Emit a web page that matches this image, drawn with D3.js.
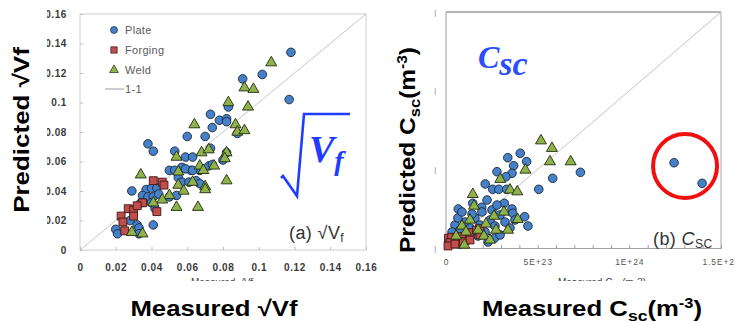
<!DOCTYPE html>
<html>
<head>
<meta charset="utf-8">
<script src="https://cdn.jsdelivr.net/npm/d3@7"></script>
<style>
  body { margin: 0; background: #fff; }
  svg { display: block; font-family: "Liberation Sans", Arial, sans-serif; }
</style>
</head>
<body>
<script>
// (a) sqrt(Vf): [measured, predicted]
const plateVf = [[0.118,0.134],[0.102,0.119],[0.091,0.116],[0.117,0.102],[0.083,0.097],[0.073,0.092],[0.078,0.088],[0.082,0.089],[0.082,0.087],[0.074,0.083],[0.060,0.077],[0.070,0.077],[0.088,0.079],[0.038,0.072],[0.041,0.067],[0.053,0.067],[0.059,0.063],[0.063,0.063],[0.082,0.066],[0.073,0.069],[0.050,0.054],[0.053,0.054],[0.057,0.056],[0.062,0.054],[0.067,0.054],[0.072,0.057],[0.055,0.049],[0.057,0.046],[0.061,0.046],[0.065,0.047],[0.067,0.045],[0.029,0.040],[0.037,0.041],[0.040,0.042],[0.043,0.042],[0.035,0.037],[0.038,0.036],[0.041,0.036],[0.044,0.038],[0.050,0.036],[0.054,0.037],[0.034,0.032],[0.040,0.032],[0.042,0.028],[0.032,0.017],[0.033,0.015],[0.041,0.017],[0.020,0.014],[0.021,0.011],[0.033,0.011],[0.028,0.020],[0.080,0.061],[0.074,0.058],[0.059,0.055],[0.063,0.054]];
const forgingVf = [[0.041,0.047],[0.046,0.046],[0.047,0.044],[0.035,0.032],[0.043,0.026],[0.027,0.028],[0.030,0.027],[0.023,0.023],[0.030,0.023],[0.024,0.019],[0.025,0.013],[0.032,0.030]];
const weldVf = [[0.107,0.127],[0.092,0.110],[0.097,0.109],[0.083,0.100],[0.094,0.097],[0.064,0.085],[0.087,0.085],[0.088,0.080],[0.092,0.081],[0.034,0.051],[0.054,0.063],[0.068,0.066],[0.072,0.068],[0.082,0.066],[0.081,0.062],[0.067,0.057],[0.069,0.054],[0.075,0.057],[0.082,0.047],[0.055,0.053],[0.055,0.044],[0.063,0.046],[0.070,0.043],[0.070,0.041],[0.058,0.040],[0.050,0.037],[0.046,0.034],[0.041,0.032],[0.054,0.029],[0.066,0.029],[0.035,0.011],[0.029,0.012]];
const vfTicks = [0, 0.02, 0.04, 0.06, 0.08, 0.1, 0.12, 0.14, 0.16];
const vfTickLabels = ['0', '0.02', '0.04', '0.06', '0.08', '0.1', '0.12', '0.14', '0.16'];

// (b) Csc in units of 1E23 m^-3: [measured, predicted]
const plateCsc = [[3.37,5.74],[4.05,6.02],[4.40,5.49],[3.69,5.23],[2.78,4.85],[3.60,4.75],[3.27,4.53],[7.33,4.81],[5.82,4.43],[2.14,4.07],[2.55,3.73],[2.88,3.73],[3.31,3.73],[5.06,3.73],[1.46,2.84],[3.18,2.84],[0.67,2.48],[3.60,2.48],[1.95,2.59],[4.29,1.99],[4.47,1.40],[2.64,0.62],[3.64,2.21],[12.44,5.42],[13.97,4.11],[0.49,1.46],[0.76,1.14],[1.04,1.65],[1.31,1.27],[1.58,1.91],[1.85,1.46],[2.13,1.02],[2.40,1.78],[2.67,1.40],[2.95,2.10],[3.22,1.65],[1.20,0.51],[1.75,0.76],[2.29,0.38],[2.95,0.83],[3.49,1.27],[3.76,1.78],[0.65,1.91],[0.33,1.02],[0.87,2.29],[2.51,2.42],[1.42,2.16],[1.96,2.29],[2.78,2.73],[2.24,3.05],[0.76,0.25]];
const forgingCsc = [[0.13,0.62],[0.31,0.68],[0.58,0.68],[0.86,0.72],[1.31,0.97],[1.67,1.14],[1.85,1.23],[0.94,0.40],[0.22,0.34],[1.85,0.83],[0.11,0.13],[0.49,0.25],[1.31,0.51]];
const weldCsc = [[5.18,6.82],[5.78,6.34],[5.67,5.49],[6.80,5.49],[4.33,4.96],[2.96,4.37],[3.49,3.69],[3.89,3.58],[1.46,3.41],[3.91,1.82],[2.73,1.14],[1.00,0.19],[0.87,1.40],[1.31,1.78],[1.75,1.14],[2.18,1.53],[2.62,2.03],[3.16,2.29],[1.53,2.67],[2.07,0.76],[0.55,0.76],[3.38,1.14],[2.40,0.51],[1.09,1.02]];
const cscTicks = [0, 5, 10, 15];
const cscTickLabels = ['0', '5E+23', '1E+24', '1.5E+24'];

const series = ['Plate', 'Forging', 'Weld'];

const width = 735, height = 322;
const svg = d3.select('body').append('svg')
  .attr('width', width)
  .attr('height', height);

const defs = svg.append('defs');
// clip rect is in the axis group's own coordinates (translated by x = 80)
defs.append('clipPath').attr('id', 'clipLeft')
  .append('rect').attr('x', -33).attr('y', 0).attr('width', 60).attr('height', 270);
defs.append('clipPath').attr('id', 'clipSmall')
  .append('rect').attr('x', 0).attr('y', 270).attr('width', width).attr('height', 11);

const markerStyle = {
  Plate:   { shape: d3.symbolCircle,   size: 58, fill: '#4580c8', stroke: '#1a2738' },
  Forging: { shape: d3.symbolSquare,   size: 62, fill: '#c24e4b', stroke: '#381514' },
  Weld:    { shape: d3.symbolTriangle, size: 52, fill: '#8fb34a', stroke: '#202a10' }
};

function drawPoints(g, data, name, x, y) {
  const st = markerStyle[name];
  g.selectAll(null)
    .data(data)
    .enter()
    .append('path')
    .attr('d', d3.symbol().type(st.shape).size(st.size))
    .attr('transform', d => `translate(${x(d[0])},${y(d[1])})`)
    .attr('fill', st.fill)
    .attr('stroke', st.stroke)
    .attr('stroke-width', 0.9);
}

// ---------- left panel ----------
const xL = d3.scaleLinear().domain([0, 0.16]).range([80, 366]);
const yL = d3.scaleLinear().domain([0, 0.16]).range([250, 14]);

svg.append('rect')
  .attr('x', xL(0)).attr('y', yL(0.16))
  .attr('width', xL(0.16) - xL(0)).attr('height', yL(0) - yL(0.16))
  .attr('fill', 'none').attr('stroke', '#cfcfcf');

const axL = svg.append('g')
  .attr('transform', `translate(0,${yL(0)})`)
  .call(d3.axisBottom(xL).tickValues(vfTicks).tickSize(-3).tickPadding(14)
    .tickFormat((d, i) => vfTickLabels[i]));
const ayL = svg.append('g')
  .attr('clip-path', 'url(#clipLeft)')
  .attr('transform', `translate(${xL(0)},0)`)
  .call(d3.axisLeft(yL).tickValues(vfTicks).tickSize(-3).tickPadding(13)
    .tickFormat((d, i) => vfTickLabels[i]));
[axL, ayL].forEach(a => {
  a.select('.domain').remove();
  a.selectAll('line').attr('stroke', '#bdbdbd');
  a.selectAll('text').attr('font-size', 10).attr('font-weight', 'bold')
    .attr('letter-spacing', 0.6).attr('fill', '#3a3a3a');
});

svg.append('line')
  .attr('x1', xL(0)).attr('y1', yL(0))
  .attr('x2', xL(0.16)).attr('y2', yL(0.16))
  .attr('stroke', '#c4c4c4').attr('stroke-width', 1);

const gL = svg.append('g');
drawPoints(gL, plateVf, 'Plate', xL, yL);
drawPoints(gL, forgingVf, 'Forging', xL, yL);
drawPoints(gL, weldVf, 'Weld', xL, yL);

// legend
const legend = svg.append('g').attr('transform', 'translate(114,30)');
series.forEach((name, i) => {
  const st = markerStyle[name];
  legend.append('path')
    .attr('d', d3.symbol().type(st.shape).size(st.size * 0.65))
    .attr('transform', `translate(0,${i * 20})`)
    .attr('fill', st.fill).attr('stroke', st.stroke).attr('stroke-width', 0.7);
  legend.append('text')
    .attr('x', 11).attr('y', i * 20 + 4)
    .attr('font-size', 11).attr('letter-spacing', 0.3).attr('fill', '#5a5a5a')
    .text(name);
});
legend.append('line')
  .attr('x1', -9).attr('x2', 10).attr('y1', 59).attr('y2', 59)
  .attr('stroke', '#bdbdbd').attr('stroke-width', 1.5);
legend.append('text')
  .attr('x', 11).attr('y', 63)
  .attr('font-size', 11).attr('letter-spacing', 0.3).attr('fill', '#5a5a5a')
  .text('1-1');

// big blue sqrt(Vf)
const blue = '#1f3cff';
const rad = svg.append('g').attr('transform', 'translate(283,114)');
rad.append('path')
  .attr('d', 'M-2,64 L0,62 L14,82 L21,0 L67,0')
  .attr('fill', 'none').attr('stroke', blue).attr('stroke-width', 2.6)
  .attr('stroke-linejoin', 'miter');
const vf = rad.append('text')
  .attr('x', 26).attr('y', 48)
  .attr('font-family', '"Liberation Serif", serif')
  .attr('font-style', 'italic').attr('font-weight', 'bold')
  .attr('fill', blue).attr('font-size', 38)
  .text('V');
vf.append('tspan').attr('font-size', 28).attr('dy', 8).text('f');

const tagA = svg.append('text')
  .attr('x', 289).attr('y', 239)
  .attr('font-size', 18).attr('letter-spacing', 0.4).attr('fill', '#333')
  .text('(a) √V');
tagA.append('tspan').attr('font-size', 12).attr('dy', 3).text('f');

// ---------- right panel ----------
const xR = d3.scaleLinear().domain([0, 15]).range([446, 721]);
const yR = d3.scaleLinear().domain([0, 15]).range([248, 12]);

svg.append('line').attr('x1', xR(0)).attr('x2', xR(15)).attr('y1', yR(15)).attr('y2', yR(15))
  .attr('stroke', '#6a6a6a');
svg.append('line').attr('x1', xR(0)).attr('x2', xR(0)).attr('y1', yR(15)).attr('y2', yR(0))
  .attr('stroke', '#9a9a9a');
svg.append('line').attr('x1', xR(15)).attr('x2', xR(15)).attr('y1', yR(15)).attr('y2', yR(0))
  .attr('stroke', '#a8a8a8');

const axR = svg.append('g')
  .attr('transform', `translate(0,${yR(0)})`)
  .call(d3.axisBottom(xR).tickValues(d3.range(0, 16)).tickSize(-3).tickPadding(11)
    .tickFormat(d => cscTicks.includes(d) ? cscTickLabels[cscTicks.indexOf(d)] : ''));
axR.select('.domain').attr('stroke', '#a0a0a0');
axR.selectAll('line').attr('stroke', '#a0a0a0');
axR.selectAll('text').attr('font-size', 8.5).attr('letter-spacing', 0.9).attr('fill', '#555');

const ayR = svg.append('g')
  .attr('transform', `translate(${xR(0)},0)`)
  .call(d3.axisLeft(yR).tickValues(cscTicks).tickSize(0).tickPadding(10)
    .tickFormat(() => '|'));
ayR.select('.domain').remove();
ayR.selectAll('text').attr('font-size', 7).attr('fill', '#777');

svg.append('line')
  .attr('x1', xR(0)).attr('y1', yR(0))
  .attr('x2', xR(15)).attr('y2', yR(15))
  .attr('stroke', '#c4c4c4').attr('stroke-width', 1);

const gR = svg.append('g');
drawPoints(gR, plateCsc, 'Plate', xR, yR);
drawPoints(gR, forgingCsc, 'Forging', xR, yR);
drawPoints(gR, weldCsc, 'Weld', xR, yR);

svg.append('circle')
  .attr('cx', xR(13.04)).attr('cy', yR(5.21)).attr('r', 32)
  .attr('fill', 'none').attr('stroke', '#f01010').attr('stroke-width', 4);

const csc = svg.append('text')
  .attr('x', 478).attr('y', 68)
  .attr('font-family', '"Liberation Serif", serif')
  .attr('font-style', 'italic').attr('font-weight', 'bold')
  .attr('fill', '#2a4dff').attr('font-size', 32)
  .text('C');
csc.append('tspan').attr('font-size', 34).attr('dy', 7).text('sc');

const tagB = svg.append('text')
  .attr('x', 653).attr('y', 245)
  .attr('font-size', 18).attr('letter-spacing', 0.4).attr('fill', '#333')
  .text('(b) ');
tagB.append('tspan').attr('font-style', 'italic').text('C');
tagB.append('tspan').attr('font-size', 12).attr('dy', 3).text('SC');

// ---------- titles ----------
const small = svg.append('g').attr('clip-path', 'url(#clipSmall)')
  .attr('font-size', 10).attr('fill', '#444').attr('text-anchor', 'middle');
small.append('text').attr('x', 222).attr('y', 286).text('Measured √Vf');
const smallR = small.append('text').attr('x', 602).attr('y', 286).text('Measured C');
smallR.append('tspan').attr('font-size', 7).attr('dy', 2).text('sc');
smallR.append('tspan').attr('dy', -2).text(' (m-3)');

const titleStyle = t => t.attr('font-weight', 'bold').attr('font-size', 22)
  .attr('fill', '#000').attr('text-anchor', 'middle');

svg.append('text').call(titleStyle)
  .attr('transform', 'translate(214,316) scale(1.17,1)')
  .text('Measured √Vf');

const tR = svg.append('text').call(titleStyle)
  .attr('transform', 'translate(592,316) scale(1.17,1)')
  .text('Measured C');
tR.append('tspan').attr('font-size', 15).attr('dy', 5).text('sc');
tR.append('tspan').attr('dy', -5).text('(m');
tR.append('tspan').attr('font-size', 14).attr('dy', -8).text('-3');
tR.append('tspan').attr('dy', 8).text(')');

svg.append('text').call(titleStyle)
  .attr('transform', 'translate(29,130) rotate(-90) scale(1.18,1)')
  .text('Predicted √Vf');

const yR2 = svg.append('text').call(titleStyle)
  .attr('transform', 'translate(415,150) rotate(-90) scale(1.11,1)')
  .text('Predicted C');
yR2.append('tspan').attr('font-size', 15).attr('dy', 5).text('sc');
yR2.append('tspan').attr('dy', -5).text('(m');
yR2.append('tspan').attr('font-size', 14).attr('dy', -8).text('-3');
yR2.append('tspan').attr('dy', 8).text(')');
</script>
</body>
</html>
